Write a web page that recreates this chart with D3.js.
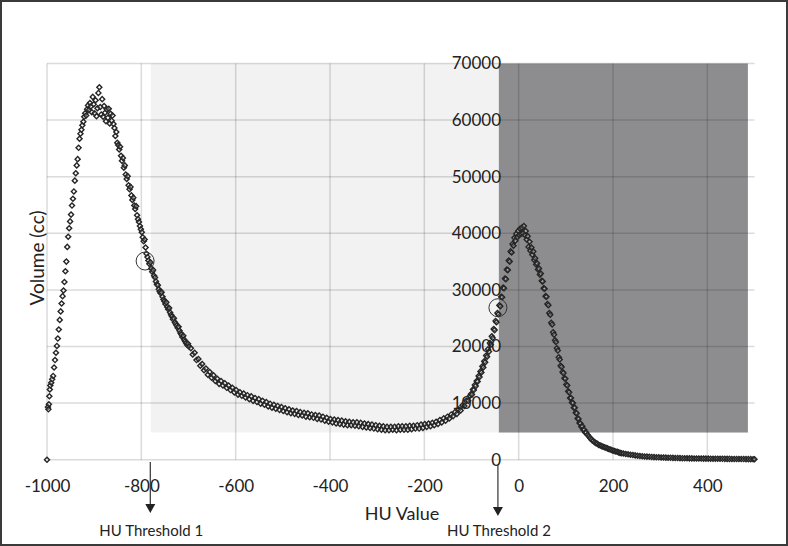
<!DOCTYPE html>
<html><head><meta charset="utf-8">
<script src="https://cdn.jsdelivr.net/npm/d3@7"></script>
<style>
body{margin:0;background:#fff}
svg{display:block}
text{font-family:Lato,"Open Sans",sans-serif;fill:#222}
</style>
</head><body>
<svg id="c" width="788" height="546"></svg>
<script>
// ---- data (HU value, volume in cc) ----
const risePeak1 = [[-1000,0],[-998,9300],[-997,8900],[-996,9800],[-995,11200],[-994,12400],[-993,13100],[-991,13600],[-989,14200],[-987,14800],[-985,16300],[-983,17600],[-981,18900],[-979,20100],[-977,21400],[-975,23000],[-973,24700],[-971,26200],[-969,27600],[-967,28900],[-965,29900],[-963,31400],[-961,33300],[-959,35000],[-957,37600],[-955,39400],[-953,40900],[-951,42100],[-949,43300],[-947,44900],[-945,46100],[-943,47400],[-941,49300],[-939,50600],[-937,52000],[-935,53100],[-933,55100],[-931,56700],[-929,57600],[-927,58300],[-925,59100],[-923,59700],[-921,60600],[-919,61200],[-917,60800],[-915,61900],[-913,62600],[-911,61800],[-909,63000],[-907,62400],[-905,61400],[-903,64100],[-901,62800],[-899,61200],[-897,63500],[-895,60700],[-893,62100],[-891,64800],[-889,65800],[-887,62300],[-885,61000],[-883,63700],[-881,60600],[-879,62500],[-877,61300],[-875,59800],[-873,61900],[-871,60400],[-869,62000],[-867,59400]];
const fallPeak1 = [[-865,61100],[-863,59900],[-861,60800],[-859,59300],[-857,58600],[-855,57200],[-853,57900],[-851,56000],[-849,55600],[-847,54800],[-845,55300],[-843,53700],[-841,52800],[-839,53300],[-837,51600],[-835,52000],[-833,50400],[-831,49600],[-829,50100],[-827,48500],[-825,47800],[-823,48200],[-821,46700],[-819,45900],[-817,46300],[-815,44900],[-813,44300],[-811,44800],[-809,43200],[-807,42500],[-805,42000],[-803,41300],[-801,40700],[-799,40200],[-797,39300],[-795,38600],[-793,38900],[-791,37500],[-789,36400],[-787,35800],[-785,35200],[-783,34600],[-781,34900],[-779,33800],[-777,33200],[-775,33500],[-773,32500],[-771,32200],[-769,31500],[-767,31000],[-765,30800],[-763,30100],[-761,29700],[-759,29400],[-757,29600],[-755,28800],[-753,28300],[-751,28000],[-749,27500],[-747,27800],[-745,27000],[-743,26600],[-741,26800],[-739,26000],[-737,25600],[-735,25300],[-733,24800],[-731,25000],[-729,24300],[-727,24000],[-725,23700],[-723,23300],[-721,23500],[-719,22800],[-717,22400],[-715,22100],[-713,21700],[-711,21900],[-709,21200],[-707,20900],[-705,20600],[-703,20300],[-701,20500]];
const trough = [[-699,20000],[-695,19700],[-691,18600],[-687,18900],[-683,17600],[-679,17800],[-675,16600],[-671,16900],[-667,15800],[-663,16100],[-659,15000],[-655,15500],[-651,14500],[-647,14900],[-643,13900],[-639,14300],[-635,13400],[-631,13900],[-627,13100],[-623,13500],[-619,12700],[-615,13100],[-611,12300],[-607,12700],[-603,11900],[-599,12300],[-595,11500],[-591,11900],[-587,11300],[-583,11700],[-579,11000],[-575,11400],[-571,10700],[-567,11200],[-563,10400],[-559,10900],[-555,10200],[-551,10700],[-547,9900],[-543,10400],[-539,9700],[-535,10200],[-531,9400],[-527,9900],[-523,9200],[-519,9700],[-515,9000],[-511,9500],[-507,8800],[-503,9300],[-499,8600],[-495,9100],[-491,8400],[-487,8900],[-483,8200],[-479,8700],[-475,8100],[-471,8600],[-467,7900],[-463,8400],[-459,7800],[-455,8300],[-451,7600],[-447,8200],[-443,7500],[-439,8000],[-435,7400],[-431,7900],[-427,7200],[-423,7800],[-419,7100],[-415,7600],[-411,6900],[-407,7400],[-403,6700],[-399,7200],[-395,6600],[-391,7100],[-387,6400],[-383,7000],[-379,6300],[-375,6900],[-371,6200],[-367,6800],[-363,6100],[-359,6700],[-355,6100],[-351,6600],[-347,6000],[-343,6600],[-339,5900],[-335,6500],[-331,5800],[-327,6400],[-323,5700],[-319,6300],[-315,5600],[-311,6200],[-307,5500],[-303,6100],[-299,5400],[-295,6000],[-291,5300],[-287,5900],[-283,5200],[-279,5800],[-275,5200],[-271,5800],[-267,5300],[-263,5800],[-259,5200],[-255,5900],[-251,5300],[-247,5900],[-243,5300],[-239,5900],[-235,5300],[-231,6000],[-227,5400],[-223,6000],[-219,5500],[-215,6100],[-211,5500],[-207,6200],[-203,5600],[-199,6300],[-195,5800],[-191,6400],[-187,5900],[-183,6500],[-179,6100],[-175,6700],[-171,6300],[-167,7000],[-163,6600],[-159,7300],[-155,6900],[-151,7600],[-147,7300],[-143,8000],[-139,7700],[-135,8400],[-131,8100],[-127,8900],[-123,8700],[-119,9600],[-115,9500],[-111,10400],[-107,10400],[-103,11300]];
const peak2 = [[-101,11600],[-99,11500],[-97,12400],[-95,12300],[-93,13200],[-91,13000],[-89,13900],[-87,13800],[-85,14800],[-83,14600],[-81,15600],[-79,15400],[-77,16500],[-75,16300],[-73,17400],[-71,17200],[-69,18400],[-67,18200],[-65,19500],[-63,19100],[-61,20600],[-59,20300],[-57,21800],[-55,21500],[-53,23100],[-51,22900],[-49,24500],[-47,24300],[-45,25900],[-43,25700],[-41,27300],[-39,27100],[-37,28800],[-35,28700],[-33,30400],[-31,30300],[-29,32000],[-27,31900],[-25,33600],[-23,33500],[-21,35200],[-19,35000],[-17,36800],[-15,36600],[-13,38100],[-11,37800],[-9,39200],[-7,38700],[-5,39900],[-3,39300],[-1,40400],[1,39700],[3,40800],[5,39900],[7,41000],[9,40000],[11,41300],[13,39700],[15,40400],[17,38900],[19,39500],[21,37600],[23,38500],[25,36900],[27,37500],[29,36200],[31,36800],[33,35300],[35,35600],[37,34500],[39,34700],[41,33600],[43,33800],[45,32700],[47,32900],[49,31600],[51,31500],[53,30300],[55,30200],[57,28900],[59,28800],[61,27500],[63,27300],[65,25900],[67,25600],[69,24200],[71,23900],[73,22500],[75,22100],[77,21100],[79,20800],[81,19700],[83,19300],[85,18100],[87,17700],[89,16600],[91,16400],[93,15500],[95,15300],[97,14400],[99,14300],[101,13300],[103,13100],[105,12100],[107,11900],[109,10900],[111,10900],[113,10100],[115,10000],[117,9200],[119,9200],[121,8300],[123,8200],[125,7300],[127,7200],[129,6500],[131,6400],[133,5800],[135,5900],[137,5300],[139,5300],[141,4800],[143,4800]];
const tail = [[146,4400],[149,4100],[152,3800],[155,3500],[158,3300],[161,3100],[164,2900],[167,2800],[170,2600],[173,2500],[176,2400],[179,2300],[182,2200],[185,2100],[188,2000],[191,1900],[194,1800],[197,1700],[200,1600],[203,1550],[206,1450],[209,1400],[212,1300],[215,1200],[218,1150],[222,1100],[227,1000],[232,950],[237,880],[242,820],[247,760],[252,700],[257,660],[262,620],[267,580],[272,550],[277,520],[282,490],[287,460],[292,440],[297,420],[302,400],[307,380],[312,360],[317,340],[322,330],[327,320],[332,300],[337,290],[342,280],[347,270],[352,260],[357,250],[362,240],[367,230],[372,220],[377,215],[382,210],[387,200],[392,195],[397,190],[402,185],[407,180],[412,175],[417,170],[422,165],[427,160],[432,155],[437,150],[442,145],[447,140],[452,135],[457,130],[462,125],[467,120],[472,115],[477,110],[482,105],[487,100],[492,95],[497,90],[500,85]];

const xTicks = [-1000,-800,-600,-400,-200,0,200,400];
const yTicks = [0,10000,20000,30000,40000,50000,60000,70000];
const xDomain = [-1000,500];
const yDomain = [0,70000];
// shaded ranges: [hu start, hu end, volume bottom, volume top]
const lightRange = [-780,-42,4800,70000];
const darkRange = [-42,486,4800,70000];
// threshold markers on the curve: [hu, volume]
const thresholdPoints = [[-792,35100],[-44,26850]];
const thresholdArrows = [-781,-44];
const thresholdLabels = ["HU Threshold 1","HU Threshold 2"];
const xTitle = "HU Value";
const yTitle = "Volume (cc)";

// ---- drawing ----
const svg = d3.select("#c");
const x = d3.scaleLinear().domain(xDomain).range([47,754.5]);
const y = d3.scaleLinear().domain(yDomain).range([459.7,63.5]);

svg.append("rect").attr("x",1).attr("y",1).attr("width",786).attr("height",544)
  .attr("fill","#fff").attr("stroke","#3a3a3a").attr("stroke-width",2);

function shade(r, color){
  svg.append("rect").attr("x",x(r[0])).attr("y",y(r[3]))
    .attr("width",x(r[1])-x(r[0])).attr("height",y(r[2])-y(r[3])).attr("fill",color);
}
shade(lightRange,"#f2f2f2");
shade(darkRange,"#8d8d8f");

const grid = svg.append("g").attr("stroke","rgba(0,0,0,0.14)").attr("stroke-width",1.5);
grid.selectAll("line.v").data(xTicks).join("line").attr("class","v")
  .attr("x1",d=>x(d)).attr("x2",d=>x(d)).attr("y1",y(yDomain[1])).attr("y2",y(0));
grid.selectAll("line.h").data(yTicks).join("line").attr("class","h")
  .attr("x1",x(xDomain[0])).attr("x2",x(xDomain[1])).attr("y1",d=>y(d)).attr("y2",d=>y(d));

const allPoints = [].concat(risePeak1, fallPeak1, trough, peak2, tail);
const sym = d3.symbol(d3.symbolSquare, 13);
svg.append("g").selectAll("path").data(allPoints).join("path")
  .attr("d", sym)
  .attr("transform", d=>`translate(${x(d[0])},${y(d[1])}) rotate(45)`)
  .attr("fill","rgba(255,255,255,0.25)").attr("stroke","#262626").attr("stroke-width",1.4);

svg.append("g").selectAll("circle").data(thresholdPoints).join("circle")
  .attr("cx",d=>x(d[0])).attr("cy",d=>y(d[1])).attr("r",9)
  .attr("fill","none").attr("stroke","#333").attr("stroke-width",1);

// x axis
const xa = svg.append("g").attr("transform",`translate(0,${y(0)})`)
  .call(d3.axisBottom(x).tickValues(xTicks).tickSize(0).tickPadding(20).tickFormat(d=>String(d)));
xa.select(".domain").remove();
xa.selectAll("text").attr("font-size",17).attr("font-family","Lato, sans-serif").attr("fill","#222");

// y axis
const ya = svg.append("g").attr("transform",`translate(501,0)`)
  .call(d3.axisLeft(y).tickValues(yTicks).tickSize(0).tickPadding(0).tickFormat(d=>String(d)));
ya.select(".domain").remove();
ya.selectAll("text").attr("font-size",17).attr("font-family","Lato, sans-serif").attr("fill","#222");

svg.append("text").attr("x",402).attr("y",520).attr("text-anchor","middle")
  .attr("font-size",18).text(xTitle);
svg.append("text").attr("transform","translate(44,258) rotate(-90)").attr("text-anchor","middle")
  .attr("font-size",19).text(yTitle);

// arrows
thresholdArrows.forEach((h,i)=>{
  const ax = x(h);
  const y0 = 462 + i*3, tip = 513 + i*3;
  svg.append("line").attr("x1",ax).attr("x2",ax).attr("y1",y0).attr("y2",tip-8)
    .attr("stroke","#333").attr("stroke-width",1.2);
  svg.append("path").attr("d",`M${ax-5},${tip-9}L${ax+5},${tip-9}L${ax},${tip}Z`).attr("fill","#222");
  svg.append("text").attr("x",ax+1).attr("y",536).attr("text-anchor","middle")
    .attr("font-size",15).text(thresholdLabels[i]);
});
</script>
</body></html>
